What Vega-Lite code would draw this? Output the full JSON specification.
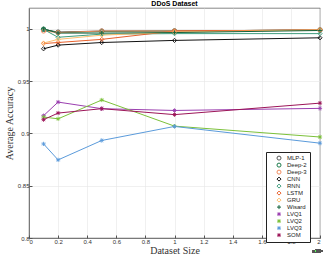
{
  "$schema": "https://vega.github.io/schema/vega-lite/v6.json",
  "width": 291,
  "height": 230,
  "autosize": {"type": "none"},
  "padding": {"left": 29, "top": 8, "right": 4, "bottom": 22},
  "background": "white",
  "title": {"text": "DDoS Dataset", "fontSize": 7, "fontWeight": "bold", "font": "Liberation Sans", "offset": 1, "color": "#000"},
  "config": {
    "view": {"stroke": "#555", "strokeWidth": 0.7},
    "axis": {"gridColor": "#e6e6e6", "gridWidth": 0.6, "domainColor": "#555", "domainWidth": 0.7, "tickColor": "#555", "tickSize": -3, "labelFontSize": 6, "labelColor": "#333", "labelFont": "Liberation Sans", "titleFont": "Liberation Serif", "titleFontWeight": "normal", "titleFontSize": 10, "titleColor": "#333"},
    "legend": {"orient": "none", "legendX": 237, "legendY": 144, "strokeColor": "#222", "fillColor": "white", "padding": 3, "labelFontSize": 6, "labelFont": "Liberation Sans", "labelColor": "#222", "symbolSize": 16, "symbolStrokeWidth": 1, "rowPadding": 0, "clipHeight": 6.2, "labelOffset": 5, "symbolOffset": 7, "labelLimit": 40}
  },
  "data": {"values": [
    {"model": "MLP-1", "size": 1000, "acc": 0.9995}, {"model": "MLP-1", "size": 2000, "acc": 0.997}, {"model": "MLP-1", "size": 5000, "acc": 0.998}, {"model": "MLP-1", "size": 10000, "acc": 0.998}, {"model": "MLP-1", "size": 20000, "acc": 0.999},
    {"model": "Deep-2", "size": 1000, "acc": 0.9998}, {"model": "Deep-2", "size": 2000, "acc": 0.9965}, {"model": "Deep-2", "size": 5000, "acc": 0.9975}, {"model": "Deep-2", "size": 10000, "acc": 0.998}, {"model": "Deep-2", "size": 20000, "acc": 0.999},
    {"model": "Deep-3", "size": 1000, "acc": 0.998}, {"model": "Deep-3", "size": 2000, "acc": 0.9965}, {"model": "Deep-3", "size": 5000, "acc": 0.998}, {"model": "Deep-3", "size": 10000, "acc": 0.998}, {"model": "Deep-3", "size": 20000, "acc": 0.999},
    {"model": "CNN", "size": 1000, "acc": 0.981}, {"model": "CNN", "size": 2000, "acc": 0.9845}, {"model": "CNN", "size": 5000, "acc": 0.987}, {"model": "CNN", "size": 10000, "acc": 0.989}, {"model": "CNN", "size": 20000, "acc": 0.9915},
    {"model": "RNN", "size": 1000, "acc": 0.9995}, {"model": "RNN", "size": 2000, "acc": 0.992}, {"model": "RNN", "size": 5000, "acc": 0.995}, {"model": "RNN", "size": 10000, "acc": 0.9955}, {"model": "RNN", "size": 20000, "acc": 0.9955},
    {"model": "LSTM", "size": 1000, "acc": 0.986}, {"model": "LSTM", "size": 2000, "acc": 0.987}, {"model": "LSTM", "size": 5000, "acc": 0.99}, {"model": "LSTM", "size": 10000, "acc": 0.998}, {"model": "LSTM", "size": 20000, "acc": 0.999},
    {"model": "GRU", "size": 1000, "acc": 0.9865}, {"model": "GRU", "size": 2000, "acc": 0.99}, {"model": "GRU", "size": 5000, "acc": 0.994}, {"model": "GRU", "size": 10000, "acc": 0.997}, {"model": "GRU", "size": 20000, "acc": 0.999},
    {"model": "Wisard", "size": 1000, "acc": 1.0}, {"model": "Wisard", "size": 2000, "acc": 0.996}, {"model": "Wisard", "size": 5000, "acc": 0.996}, {"model": "Wisard", "size": 10000, "acc": 0.9965}, {"model": "Wisard", "size": 20000, "acc": 0.9985},
    {"model": "LVQ1", "size": 1000, "acc": 0.917}, {"model": "LVQ1", "size": 2000, "acc": 0.930}, {"model": "LVQ1", "size": 5000, "acc": 0.9237}, {"model": "LVQ1", "size": 10000, "acc": 0.922}, {"model": "LVQ1", "size": 20000, "acc": 0.924},
    {"model": "LVQ2", "size": 1000, "acc": 0.9157}, {"model": "LVQ2", "size": 2000, "acc": 0.914}, {"model": "LVQ2", "size": 5000, "acc": 0.932}, {"model": "LVQ2", "size": 10000, "acc": 0.907}, {"model": "LVQ2", "size": 20000, "acc": 0.8966},
    {"model": "LVQ3", "size": 1000, "acc": 0.890}, {"model": "LVQ3", "size": 2000, "acc": 0.8747}, {"model": "LVQ3", "size": 5000, "acc": 0.8933}, {"model": "LVQ3", "size": 10000, "acc": 0.9067}, {"model": "LVQ3", "size": 20000, "acc": 0.8907},
    {"model": "SOM", "size": 1000, "acc": 0.9132}, {"model": "SOM", "size": 2000, "acc": 0.9195}, {"model": "SOM", "size": 5000, "acc": 0.9237}, {"model": "SOM", "size": 10000, "acc": 0.918}, {"model": "SOM", "size": 20000, "acc": 0.929}
  ]},
  "encoding": {
    "x": {"field": "size", "type": "quantitative", "scale": {"domain": [0, 20000], "nice": false},
      "axis": {"values": [0, 2000, 4000, 6000, 8000, 10000, 12000, 14000, 16000, 18000, 20000], "labelExpr": "format(datum.value/10000, '~g')", "title": "Dataset Size", "titlePadding": 1, "labelPadding": 3}},
    "y": {"field": "acc", "type": "quantitative", "scale": {"domain": [0.8, 1.02], "nice": false, "zero": false},
      "axis": {"values": [0.8, 0.85, 0.9, 0.95, 1], "labelExpr": "format(datum.value, '~g')", "title": "Average Accuracy", "titlePadding": 3, "labelPadding": 3}}
  },
  "layer": [
    {"mark": {"type": "line", "strokeWidth": 1},
      "encoding": {
        "color": {"field": "model", "type": "nominal",
          "scale": {"domain": ["MLP-1", "Deep-2", "Deep-3", "CNN", "RNN", "LSTM", "GRU", "Wisard", "LVQ1", "LVQ2", "LVQ3", "SOM"],
            "range": ["#555555", "#1b7a4a", "#f08a5d", "#111111", "#3f9e7e", "#e8612c", "#fdbf6f", "#14633d", "#9b3fb0", "#7cc13a", "#5b9bdb", "#9c1558"]},
          "title": null}
      }},
    {"mark": {"type": "point", "filled": false, "size": 18, "strokeWidth": 0.9, "opacity": 1},
      "encoding": {
        "color": {"field": "model", "type": "nominal", "title": null},
        "shape": {"field": "model", "type": "nominal", "title": null,
          "scale": {"domain": ["MLP-1", "Deep-2", "Deep-3", "CNN", "RNN", "LSTM", "GRU", "Wisard", "LVQ1", "LVQ2", "LVQ3", "SOM"],
            "range": ["circle", "circle", "circle", "diamond", "diamond", "diamond", "diamond", "M0,-1L0,1M-1,0L1,0", "M0,-1L0,1M-1,0L1,0M-0.7,-0.7L0.7,0.7M-0.7,0.7L0.7,-0.7", "M0,-1L0,1M-1,0L1,0M-0.7,-0.7L0.7,0.7M-0.7,0.7L0.7,-0.7", "M0,-1L0,1M-1,0L1,0M-0.7,-0.7L0.7,0.7M-0.7,0.7L0.7,-0.7", "M0,-1L0,1M-1,0L1,0M-0.7,-0.7L0.7,0.7M-0.7,0.7L0.7,-0.7"]}}
      }},
    {"mark": {"type": "text", "text": "×10⁴", "fontSize": 5, "font": "Liberation Sans", "color": "#555", "align": "right", "baseline": "top", "dy": 11, "dx": 3},
      "encoding": {"x": {"datum": 20000}, "y": {"datum": 0.8}}}
  ]
}
